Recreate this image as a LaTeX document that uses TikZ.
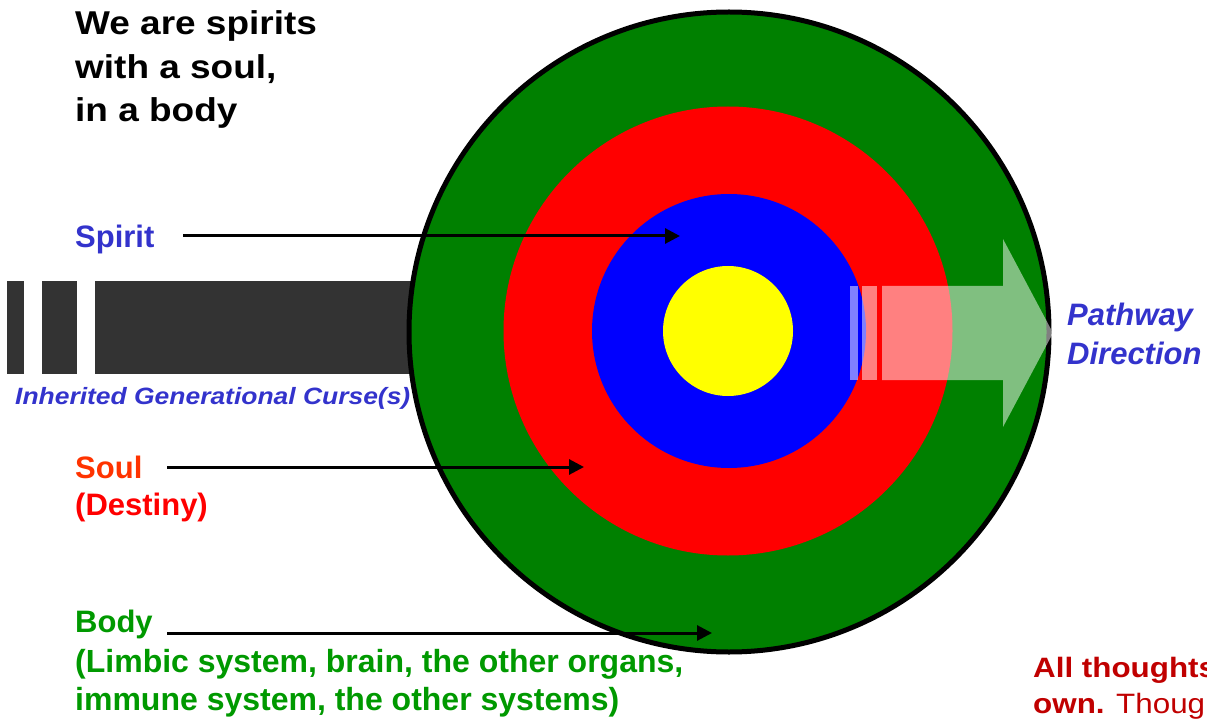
\documentclass[tikz,border=0pt]{standalone}
\usepackage{fontspec}
\setmainfont{Liberation Sans}
\newfontfamily\wideff{Liberation Sans}[FakeStretch=1.12]
\usetikzlibrary{arrows.meta}
\definecolor{ringgreen}{HTML}{008000}
\definecolor{ringred}{HTML}{FF0000}
\definecolor{ringblue}{HTML}{0000FF}
\definecolor{ringyellow}{HTML}{FFFF00}
\definecolor{bardark}{HTML}{333333}
\definecolor{txtblue}{HTML}{3333CC}
\definecolor{txtsoul}{HTML}{FF3300}
\definecolor{txtred}{HTML}{FF0000}
\definecolor{txtgreen}{HTML}{009900}
\definecolor{txtdark}{HTML}{C00000}
\begin{document}
\begin{tikzpicture}[x=1pt,y=-1pt,
  lbl/.style={anchor=base west, inner sep=0pt, font=\bfseries\fontsize{31}{37}\selectfont},
  title/.style={anchor=base west, inner sep=0pt, font=\wideff\bfseries\fontsize{33}{40}\selectfont},
  ptr/.style={line width=3pt, -{Triangle[length=15pt,width=15pt]}},
  barseg/.style={fill=bardark, draw=none},
  ghost/.style={fill=white, fill opacity=0.5, draw=none}]
\useasboundingbox (0,0) rectangle (1207,719);
% generational bar
\path[barseg] (7,281) rectangle (24,374);
\path[barseg] (42,281) rectangle (77,374);
\path[barseg] (95,281) rectangle (730,374);
% rings
\node[circle, minimum size=640pt, inner sep=0pt, fill=ringgreen, draw=black, line width=5pt] (body) at (729,332) {};
\node[circle, minimum size=449pt, inner sep=0pt, fill=ringred] (soul) at (728,331) {};
\node[circle, minimum size=274pt, inner sep=0pt, fill=ringblue] (spirit) at (729,331) {};
\node[circle, minimum size=130pt, inner sep=0pt, fill=ringyellow] (core) at (728,331) {};
% pathway ghost arrow
\path[ghost] (850,286) rectangle (858,380);
\path[ghost] (862,286) rectangle (877,380);
\path[ghost] (882,286) -- (1003,286) -- (1003,239) -- (1053,333) -- (1003,427) -- (1003,380) -- (882,380) -- cycle;
% title
\node[title] (t1) at (75,35) {We are spirits};
\node[title] (t2) at (75,79) {with a soul,};
\node[title] (t3) at (75,122) {in a body};
% labels
\node[lbl, text=txtblue] (lspirit) at (75,248) {Spirit};
\node[lbl, text=txtsoul] (lsoul) at (75,478) {Soul};
\node[lbl, text=txtred] (ldest) at (75,515) {(Destiny)};
\node[lbl, text=txtgreen] (lbody) at (75,632) {Body};
\node[lbl, text=txtgreen, font=\bfseries\fontsize{32}{37}\selectfont] (lb1) at (75,672) {(Limbic system, brain, the other organs,};
\node[lbl, text=txtgreen, font=\bfseries\fontsize{32}{37}\selectfont] (lb2) at (75,710) {immune system, the other systems)};
\node[anchor=base west, inner sep=0pt, text=txtblue, font=\wideff\bfseries\itshape\fontsize{23.6}{28}\selectfont] (curse) at (15,404) {Inherited Generational Curse(s)};
\node[anchor=base west, inner sep=0pt, text=txtblue, font=\bfseries\itshape\fontsize{31}{37}\selectfont] (pw1) at (1067,325) {Pathway};
\node[anchor=base west, inner sep=0pt, text=txtblue, font=\bfseries\itshape\fontsize{31}{37}\selectfont] (pw2) at (1067,364) {Direction};
\node[anchor=base west, inner sep=0pt, text=txtdark, font=\wideff\bfseries\fontsize{28}{34}\selectfont] (at1) at (1033,677) {All thoughts};
\node[anchor=base west, inner sep=0pt, text=txtdark, font=\wideff\fontsize{28}{34}\selectfont] (at2) at (1033,713) {\textbf{own.} Thoughts};
% pointers
\coordinate (sa) at (183,236); \coordinate (sb) at (680,236);
\coordinate (oa) at (167,467); \coordinate (ob) at (584,467);
\coordinate (ba) at (167,633); \coordinate (bb) at (712,633);
\draw[ptr] (sa) -- (sb);
\draw[ptr] (oa) -- (ob);
\draw[ptr] (ba) -- (bb);
\end{tikzpicture}
\end{document}
